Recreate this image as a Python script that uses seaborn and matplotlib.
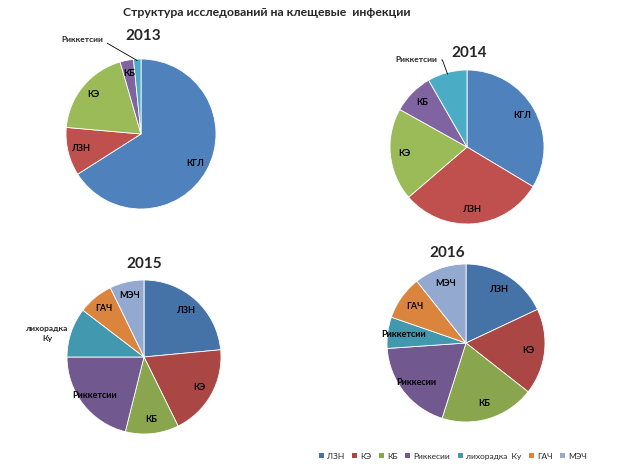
import numpy as np
import matplotlib
matplotlib.use("Agg")
import matplotlib.pyplot as plt
from matplotlib.patches import Patch
import seaborn as sns

sns.set_theme(style="white")
plt.rcParams['font.family'] = ['Lato', 'DejaVu Sans']

# data (shares, %)
labels_1314 = ['КГЛ', 'ЛЗН', 'КЭ', 'КБ', 'Риккетсии']
vals_2013 = [66.0, 10.4, 19.1, 2.9, 1.6]
vals_2014 = [33.6, 30.1, 19.4, 8.6, 8.3]

labels_2015 = ['ЛЗН', 'КЭ', 'КБ', 'Риккетсии', 'лихорадка\nКу', 'ГАЧ', 'МЭЧ']
vals_2015 = [23.5, 19.2, 11.2, 21.1, 10.4, 7.4, 7.2]

labels_2016 = ['ЛЗН', 'КЭ', 'КБ', 'Риккесии', 'Риккетсии', 'ГАЧ', 'МЭЧ']
vals_2016 = [18.0, 17.6, 19.3, 19.0, 6.4, 9.0, 10.7]

legend_labels = ['ЛЗН', 'КЭ', 'КБ', 'Риккесии', 'лихорадка  Ку', 'ГАЧ', 'МЭЧ']

pal_a = ['#4F81BD', '#C0504D', '#9BBB59', '#8064A2', '#4BACC6']
pal_b = ['#4572A7', '#AA4643', '#89A54E', '#71588F', '#4198AF', '#DB843D', '#93A9CF']

W, H = 633, 469
fig = plt.figure(figsize=(W / 100, H / 100), dpi=100)


def pie_axes(cx, cy, r):
    return fig.add_axes([(cx - r) / W, (H - cy - r) / H, 2 * r / W, 2 * r / H])


def draw_pie(ax, vals, labels, colors, skip=(), dist=0.8):
    wedges, _ = ax.pie(vals, colors=colors, startangle=90, counterclock=False,
                       wedgeprops=dict(edgecolor='white', linewidth=0.6))
    for i, (w, lab) in enumerate(zip(wedges, labels)):
        if i in skip:
            continue
        ang = np.deg2rad((w.theta1 + w.theta2) / 2)
        ax.text(dist * np.cos(ang), dist * np.sin(ang), lab, ha='center', va='center',
                fontsize=6.5, fontweight='bold', color='black')
    ax.set_xlim(-1, 1)
    ax.set_ylim(-1, 1)
    ax.set_aspect('equal')
    ax.axis('off')
    return wedges


def year_title(ax, x, y, text):
    ax.text(x, y, text, ha='center', va='center', fontsize=11, fontweight='bold')


def leader(ax, wedge, text, xytext, angleB):
    ang = np.deg2rad((wedge.theta1 + wedge.theta2) / 2)
    ax.annotate(text, xy=(0.98 * np.cos(ang), 0.98 * np.sin(ang)), xytext=xytext,
                ha='right', va='center', fontsize=6, fontweight='bold',
                arrowprops=dict(arrowstyle='-', color='black', lw=0.6, shrinkA=1, shrinkB=0,
                                connectionstyle=f'angle,angleA=0,angleB={angleB},rad=0'),
                annotation_clip=False)


fig.text(267 / W, 1 - 13 / H, 'Структура исследований на клещевые  инфекции',
         ha='center', va='center', fontsize=8.8, fontweight='bold')

# 2013
ax = pie_axes(141, 134, 75)
w = draw_pie(ax, vals_2013, labels_1314, pal_a, skip=(4,), dist=0.82)
year_title(ax, 0.03, 1.31, '2013')
leader(ax, w[4], labels_1314[4], (-0.51, 1.26), -30)

# 2014
ax = pie_axes(467, 147, 77)
w = draw_pie(ax, vals_2014, labels_1314, pal_a, skip=(4,), dist=0.82)
year_title(ax, 0.03, 1.22, '2014')
leader(ax, w[4], labels_1314[4], (-0.39, 1.13), -70)

# 2015
ax = pie_axes(144, 357, 77)
draw_pie(ax, vals_2015, labels_2015, pal_b, skip=(4,), dist=0.82)
year_title(ax, 0.0, 1.21, '2015')
ax.text(-1.26, 0.3, labels_2015[4], ha='center', va='center', fontsize=6,
        fontweight='bold', linespacing=1.5)

# 2016
ax = pie_axes(466, 343, 79)
draw_pie(ax, vals_2016, labels_2016, pal_b, dist=0.8)
year_title(ax, -0.24, 1.14, '2016')

handles = [Patch(facecolor=c, edgecolor='none') for c in pal_b]
fig.legend(handles, legend_labels, loc='center', bbox_to_anchor=(453 / W, 1 - 456 / H),
           ncol=7, frameon=False, fontsize=6, handlelength=0.6, handleheight=0.6,
           handletextpad=0.4, columnspacing=0.9)

fig.savefig('out.png', dpi=100)
